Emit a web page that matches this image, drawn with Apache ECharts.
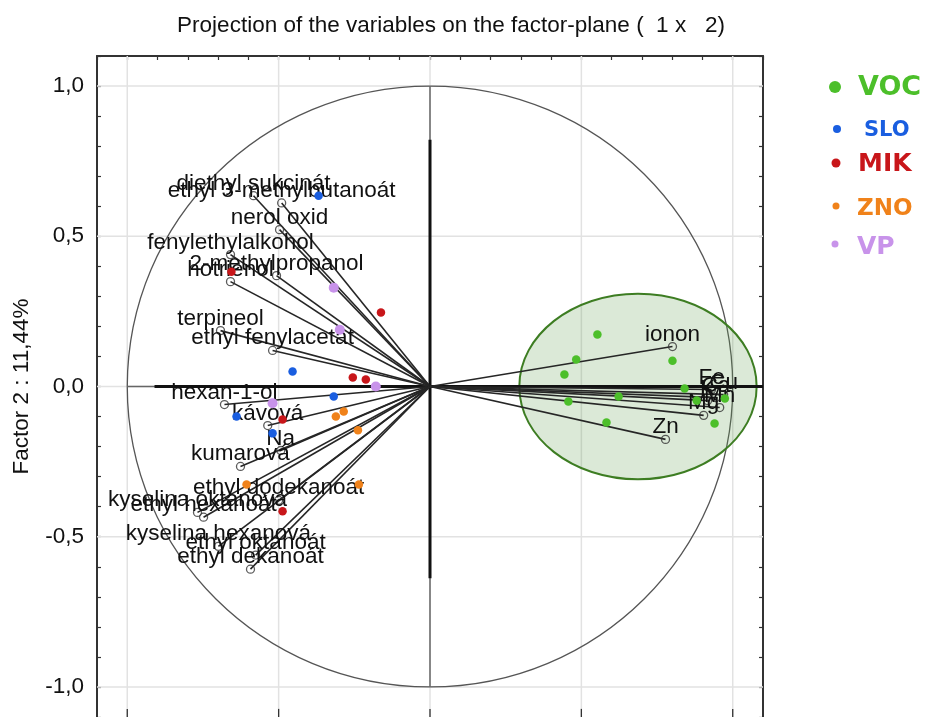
<!DOCTYPE html>
<html>
<head>
<meta charset="utf-8">
<script src="https://cdn.jsdelivr.net/npm/echarts@6/dist/echarts.min.js"></script>
<style>
  html, body { margin: 0; padding: 0; background: #fff; }
  #chart { width: 927px; height: 717px; }
</style>
</head>
<body>
<div id="chart"></div>
<script>
// Variable loadings on factor 1 and factor 2
const variableNames = [
  'diethyl sukcinát', 'ethyl 3-methylbutanoát', 'nerol oxid', 'fenylethylalkohol',
  '2-methylpropanol', 'hotrienol', 'terpineol', 'ethyl fenylacetát',
  'hexan-1-ol', 'kávová', 'Na', 'kumarová', 'ethyl dodekanoát',
  'kyselina oktanová', 'ethyl hexanoát', 'kyselina hexanová', 'ethyl oktanoát', 'ethyl dekanoát',
  'ionon', 'Zn', 'Fe', 'Cu', 'Ca', 'K', 'Mn', 'Mg'
];
const factor1 = [
  -0.583, -0.490, -0.497, -0.659,
  -0.507, -0.659, -0.692, -0.520,
  -0.679, -0.536, -0.493, -0.626, -0.500,
  -0.768, -0.748, -0.699, -0.576, -0.593,
  0.801, 0.778, 0.930, 0.970, 0.944, 0.917, 0.957, 0.904
];
const factor2 = [
  0.635, 0.611, 0.522, 0.439,
  0.369, 0.349, 0.186, 0.120,
  -0.060, -0.130, -0.213, -0.266, -0.379,
  -0.419, -0.435, -0.532, -0.561, -0.608,
  0.133, -0.176, -0.010, -0.027, -0.037, -0.047, -0.070, -0.096
];

// Observations (cases) projected on the plane, by group
const vocPoints = [[0.553, 0.173], [0.483, 0.090], [0.444, 0.040], [0.801, 0.086], [0.841, -0.007],
                   [0.623, -0.033], [0.457, -0.050], [0.583, -0.120], [0.881, -0.047], [0.974, -0.040], [0.940, -0.123]];
const sloPoints = [[-0.368, 0.635], [-0.454, 0.050], [-0.318, -0.033], [-0.639, -0.100], [-0.520, -0.156]];
const mikPoints = [[-0.656, 0.382], [-0.162, 0.246], [-0.255, 0.030], [-0.212, 0.023], [-0.487, -0.110], [-0.487, -0.415]];
const znoPoints = [[-0.311, -0.100], [-0.285, -0.083], [-0.238, -0.146], [-0.606, -0.326], [-0.235, -0.326]];
const vpPoints  = [[-0.318, 0.329], [-0.298, 0.189], [-0.179, 0.000], [-0.520, -0.056]];

// Group names and colours
const groupNames  = ['VOC', 'SLO', 'MIK', 'ZNO', 'VP'];
const groupColors = ['#4cbf2a', '#1a5ee0', '#c8161a', '#f0821a', '#c893ea'];

// Confidence ellipse around the VOC group: centre x, centre y, radius x, radius y
const vocEllipse = [0.687, 0.0, 0.392, 0.309];

// Axis range and labelled ticks
const axisMin = -1.1, axisMax = 1.1, tickStep = 0.1;
const gridTicks = [-1, -0.5, 0, 0.5, 1];
const majorTickLen = 0.027;

// Reference segments: unit-circle diameters and the thick zero lines
const thinSegments  = [[-1, 0, 1, 0], [0, -1, 0, 1]];
const thickSegments = [[-0.91, 0, 1.1, 0], [0, -0.638, 0, 0.821]];

const FONT = '"Liberation Sans", Arial, sans-serif';
const INK = '#111';

function labelFmt(v) {
  const r = Math.round(v * 10) / 10;
  if (Math.abs(r * 2 - Math.round(r * 2)) > 1e-9) return '';
  return r.toFixed(1).replace('.', ',');
}

function segmentSeries(segments, color, width, z) {
  return {
    type: 'custom', silent: true, z: z,
    data: segments,
    encode: { x: [0, 2], y: [1, 3] },
    renderItem: function (params, api) {
      const a = api.coord([api.value(0), api.value(1)]);
      const b = api.coord([api.value(2), api.value(3)]);
      return { type: 'line', shape: { x1: a[0], y1: a[1], x2: b[0], y2: b[1] },
               style: { stroke: color, lineWidth: width } };
    }
  };
}

const gridSegments = [];
gridTicks.forEach(function (t) {
  gridSegments.push([t, axisMin, t, axisMax]);
  gridSegments.push([axisMin, t, axisMax, t]);
});
// Major tick marks on the lower frame edge
const bottomTickSegments = gridTicks.map(function (t) { return [t, axisMin, t, axisMin + majorTickLen]; });

const loadingData = variableNames.map(function (n, i) { return { name: n, value: [factor1[i], factor2[i]] }; });
const loadingLines = variableNames.map(function (n, i) { return { coords: [[0, 0], [factor1[i], factor2[i]]] }; });

const groupSeries = [vocPoints, sloPoints, mikPoints, znoPoints, vpPoints].map(function (pts, g) {
  return {
    type: 'scatter', name: groupNames[g], z: 9,
    data: pts,
    symbol: 'circle',
    symbolSize: g === 4 ? 10 : 8.5,
    itemStyle: { color: groupColors[g], opacity: 1 },
    silent: true
  };
});

const axisLineStyle = { color: '#333', width: 2 };
const tickStyle = { show: true, inside: true, length: 4, lineStyle: { color: '#333', width: 1.2 } };

function frameAxis(position, extra) {
  return Object.assign({
    type: 'value', min: axisMin, max: axisMax, interval: tickStep, position: position,
    axisLine: { onZero: false, lineStyle: axisLineStyle }, axisTick: tickStyle,
    axisLabel: { show: false }, splitLine: { show: false }
  }, extra || {});
}

const option = {
  animation: false,
  backgroundColor: '#fff',
  title: {
    text: 'Projection of the variables on the factor-plane (  1 x   2)',
    left: 446, top: 9, textAlign: 'center',
    textStyle: { fontFamily: FONT, fontSize: 22.5, fontWeight: 'normal', color: INK }
  },
  grid: { left: 97, top: 56, width: 666, height: 664 },
  xAxis: [
    frameAxis('bottom', { axisLine: { show: false, onZero: false }, axisTick: { show: false } }),
    frameAxis('top')
  ],
  yAxis: [
    frameAxis('left', {
      name: 'Factor 2 : 11,44%', nameLocation: 'middle', nameGap: 64,
      nameTextStyle: { fontFamily: FONT, fontSize: 22.5, color: INK },
      axisLabel: { formatter: labelFmt, fontFamily: FONT, fontSize: 22.5, color: INK, margin: 13 }
    }),
    frameAxis('right')
  ],
  series: [
    segmentSeries(gridSegments, '#e2e2e2', 1.5, 1),
    segmentSeries(bottomTickSegments, '#333', 1.3, 1),
    {
      type: 'custom', silent: true, z: 2,
      data: [[0, 0, 1, 1]],
      encode: { x: 0, y: 1 },
      renderItem: function (params, api) {
        const c = api.coord([api.value(0), api.value(1)]);
        const s = api.size([api.value(2), api.value(3)]);
        return { type: 'ellipse', shape: { cx: c[0], cy: c[1], rx: s[0], ry: s[1] },
                 style: { fill: 'none', stroke: '#555', lineWidth: 1.3 } };
      }
    },
    segmentSeries(thinSegments, '#666', 1.5, 2),
    {
      type: 'custom', silent: true, z: 3,
      data: [vocEllipse],
      encode: { x: 0, y: 1 },
      renderItem: function (params, api) {
        const c = api.coord([api.value(0), api.value(1)]);
        const s = api.size([api.value(2), api.value(3)]);
        return { type: 'ellipse', shape: { cx: c[0], cy: c[1], rx: s[0], ry: s[1] },
                 style: { fill: 'rgba(100,160,80,0.23)', stroke: '#3d7d22', lineWidth: 2 } };
      }
    },
    segmentSeries(thickSegments, '#111', 3, 4),
    {
      type: 'lines', coordinateSystem: 'cartesian2d', silent: true, z: 5,
      data: loadingLines,
      symbol: 'none',
      lineStyle: { color: '#262626', width: 1.6, opacity: 1 }
    },
    {
      type: 'scatter', z: 6, silent: true,
      data: loadingData,
      symbol: 'circle', symbolSize: 8,
      itemStyle: { color: 'rgba(255,255,255,0)', borderColor: '#333', borderWidth: 1.3 },
      label: { show: true, formatter: '{b}', position: 'top', distance: -4,
               fontFamily: FONT, fontSize: 22.5, color: INK, opacity: 1, textBorderWidth: 0 },
      labelLayout: { hideOverlap: false }
    }
  ].concat(groupSeries),
  graphic: [
    { type: 'circle', shape: { cx: 835, cy: 87, r: 6 }, style: { fill: groupColors[0] } },
    { type: 'text', x: 858, y: 88, style: { text: 'VOC', fill: groupColors[0], font: 'bold 27px "DejaVu Sans"', textVerticalAlign: 'middle' } },
    { type: 'circle', shape: { cx: 837, cy: 129, r: 4 }, style: { fill: groupColors[1] } },
    { type: 'text', x: 864, y: 131, style: { text: 'SLO', fill: groupColors[1], font: 'bold 21px "DejaVu Sans"', textVerticalAlign: 'middle' } },
    { type: 'circle', shape: { cx: 836, cy: 163, r: 4.5 }, style: { fill: groupColors[2] } },
    { type: 'text', x: 858, y: 164, style: { text: 'MIK', fill: groupColors[2], font: 'bold 25px "DejaVu Sans"', textVerticalAlign: 'middle' } },
    { type: 'circle', shape: { cx: 836, cy: 206, r: 3.5 }, style: { fill: groupColors[3] } },
    { type: 'text', x: 857, y: 209, style: { text: 'ZNO', fill: groupColors[3], font: 'bold 23px "DejaVu Sans"', textVerticalAlign: 'middle' } },
    { type: 'circle', shape: { cx: 835, cy: 244, r: 3.5 }, style: { fill: groupColors[4] } },
    { type: 'text', x: 857, y: 247, style: { text: 'VP', fill: groupColors[4], font: 'bold 25px "DejaVu Sans"', textVerticalAlign: 'middle' } }
  ]
};

const chart = echarts.init(document.getElementById('chart'), null, { renderer: 'canvas' });
chart.setOption(option);
</script>
</body>
</html>
